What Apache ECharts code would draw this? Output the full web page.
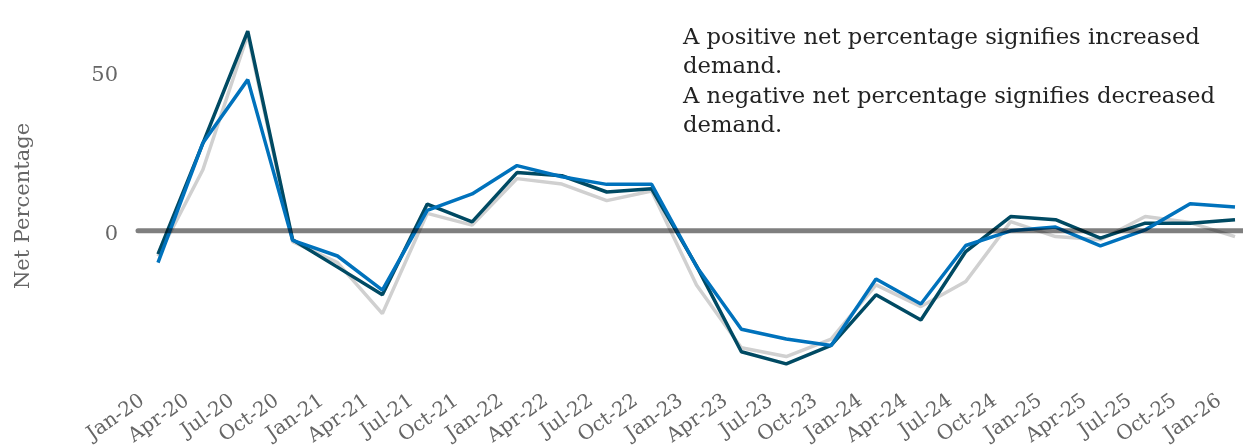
<!DOCTYPE html>
<html>
<head>
<meta charset="utf-8">
<script src="https://cdn.jsdelivr.net/npm/echarts@6/dist/echarts.min.js"></script>
<style>html,body{margin:0;padding:0;background:#fff;}#c{width:1243px;height:445px;}</style>
</head>
<body>
<div id="c"></div>
<script>
const categories = ["Jan-20","Apr-20","Jul-20","Oct-20","Jan-21","Apr-21","Jul-21","Oct-21","Jan-22","Apr-22","Jul-22","Oct-22","Jan-23","Apr-23","Jul-23","Oct-23","Jan-24","Apr-24","Jul-24","Oct-24","Jan-25","Apr-25","Jul-25","Oct-25","Jan-26"];
const seriesGray = [-8, 19.2, 61.6, -3.4, -10, -26, 5.5, 1.8, 16.4, 14.7, 9.5, 12.5, -17, -36.7, -39.5, -34, -17, -23.8, -15.9, 2.9, -1.8, -2.8, 4.5, 2.6, -1.8];
const seriesDark = [-7.3, 27.5, 62.7, -2.8, -11.4, -20.1, 8.4, 2.8, 18.3, 17.3, 12.2, 13.2, -11, -38, -41.8, -36, -20.1, -28, -6.5, 4.5, 3.5, -2.3, 2.4, 2.4, 3.5];
const seriesBlue = [-10, 27.6, 47.5, -3, -7.9, -18.6, 6.4, 11.6, 20.5, 17, 14.6, 14.6, -11.2, -30.9, -34, -36, -15.1, -23, -4.6, 0, 1.2, -4.7, 0.3, 8.5, 7.5];
const yTicks = [-50, 0, 50];
const noteText = "A positive net percentage signifies increased\ndemand.\nA negative net percentage signifies decreased\ndemand.";

const FONT = "'DejaVu Serif', 'Liberation Serif', serif";
const chart = echarts.init(document.getElementById('c'), null, {renderer: 'canvas'});
chart.setOption({
  animation: false,
  backgroundColor: '#ffffff',
  title: {
    text: noteText,
    left: 678, top: 18,
    textStyle: {fontFamily: FONT, fontSize: 22.7, fontWeight: 'normal', color: '#222', lineHeight: 29.5}
  },
  grid: [
    {left: 158, right: 8, top: 8, bottom: 55, containLabel: false, outerBoundsMode: 'none'},
    {left: 138, right: 0, top: 8, bottom: 55, containLabel: false, outerBoundsMode: 'none'}
  ],
  xAxis: [
    {
      type: 'category', gridIndex: 0, data: categories, boundaryGap: false,
      axisLine: {show: false}, axisTick: {show: false}, splitLine: {show: false},
      axisLabel: {rotate: 35, interval: 0, margin: -2, padding: [0, 19, 0, 0], color: '#666', fontFamily: FONT, fontSize: 20}
    },
    {type: 'value', gridIndex: 1, min: 0, max: 1, show: false}
  ],
  yAxis: [
    {
      type: 'value', gridIndex: 0, min: yTicks[0], max: 70, interval: 50,
      name: 'Net Percentage', nameLocation: 'middle', nameGap: 124, nameRotate: 90,
      nameTextStyle: {color: '#666', fontFamily: FONT, fontSize: 21, padding: [0, 14, 0, 0]},
      axisLine: {show: false}, axisTick: {show: false}, splitLine: {show: false},
      axisLabel: {margin: 40, verticalAlign: 'top', lineHeight: 7, color: '#666', fontFamily: FONT, fontSize: 21, showMinLabel: false, showMaxLabel: false}
    },
    {type: 'value', gridIndex: 1, min: yTicks[0], max: 70, show: false}
  ],
  series: [
    {name: 'Series C', type: 'line', xAxisIndex: 0, yAxisIndex: 0, data: seriesGray, showSymbol: false, z: 2,
     lineStyle: {color: '#d0d0d0', width: 3.5}, itemStyle: {color: '#d0d0d0'}},
    {name: 'Series A', type: 'line', xAxisIndex: 0, yAxisIndex: 0, data: seriesDark, showSymbol: false, z: 3,
     lineStyle: {color: '#004a63', width: 3.5}, itemStyle: {color: '#004a63'}},
    {name: 'Series B', type: 'line', xAxisIndex: 0, yAxisIndex: 0, data: seriesBlue, showSymbol: false, z: 4,
     lineStyle: {color: '#0072bc', width: 3.5}, itemStyle: {color: '#0072bc'}},
    {name: 'Zero', type: 'line', xAxisIndex: 1, yAxisIndex: 1, data: [[0, 0], [1, 0]], showSymbol: false, z: 10,
     lineStyle: {color: 'rgba(0,0,0,0.5)', width: 5, cap: 'round'}, silent: true}
  ]
});
</script>
</body>
</html>
